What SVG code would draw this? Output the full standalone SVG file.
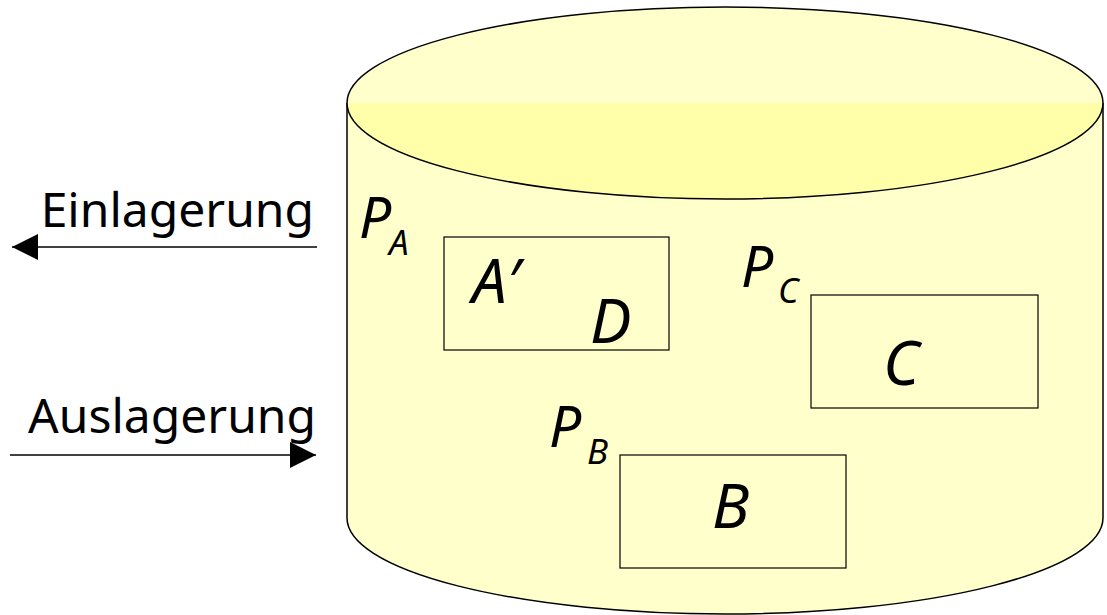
<svg xmlns="http://www.w3.org/2000/svg" width="1107" height="615" viewBox="0 0 1107 615">
<defs>
<style>
.lbl{font-family:"Noto Sans","Open Sans",sans-serif;fill:#000}
.it{font-family:"Noto Sans","Open Sans",sans-serif;font-style:italic;fill:#000}
.box{fill:none;stroke:#000;stroke-width:1.2}
.conn{stroke:#000;stroke-width:1.5;fill:none}
</style>
<marker id="ah" viewBox="0 0 10 10" refX="10" refY="5" markerWidth="26" markerHeight="27" markerUnits="userSpaceOnUse" orient="auto">
<path d="M0,0 L10,5 L0,10 Z" fill="#000"/>
</marker>
<clipPath id="lowerHalf"><rect x="340" y="103" width="770" height="100"/></clipPath>
</defs>
<g id="cylinder">
<path d="M347,103 L347,518 A378,96 0 0 0 1103,518 L1103,103" fill="#ffffcc" stroke="#000" stroke-width="1.5"/>
<ellipse cx="725" cy="103" rx="378" ry="96" fill="#ffffcc"/>
<ellipse cx="725" cy="103" rx="378" ry="96" fill="#ffffaa" clip-path="url(#lowerHalf)"/>
<ellipse cx="725" cy="103" rx="378" ry="96" fill="none" stroke="#000" stroke-width="1.5"/>
</g>
<g id="connectors">
<line class="conn" x1="317" y1="247" x2="12" y2="247" marker-end="url(#ah)"/>
<line class="conn" x1="10" y1="455" x2="316" y2="455" marker-end="url(#ah)"/>
</g>
<g id="label-ein"><text class="lbl" x="314" y="227" font-size="48" text-anchor="end">Einlagerung</text></g>
<g id="label-aus"><text class="lbl" x="316" y="433" font-size="48" text-anchor="end">Auslagerung</text></g>
<g id="PA"><text class="it" x="359" y="238" font-size="57">P</text><text class="it" x="389" y="255" font-size="35">A</text></g>
<g id="PC"><text class="it" x="741" y="287" font-size="57">P</text><text class="it" x="778" y="303" font-size="35">C</text></g>
<g id="PB"><text class="it" x="549" y="447" font-size="57">P</text><text class="it" x="587" y="464" font-size="35">B</text></g>
<g id="boxA">
<rect class="box" x="444" y="237" width="225" height="113"/>
<text class="it" x="472" y="303" font-size="62">A′</text>
<text class="it" x="590" y="343" font-size="62">D</text>
</g>
<g id="boxC">
<rect class="box" x="811" y="295" width="227" height="113"/>
<text class="it" x="883" y="385" font-size="62">C</text>
</g>
<g id="boxB">
<rect class="box" x="620" y="455" width="226" height="113"/>
<text class="it" x="712" y="528" font-size="62">B</text>
</g>
</svg>
